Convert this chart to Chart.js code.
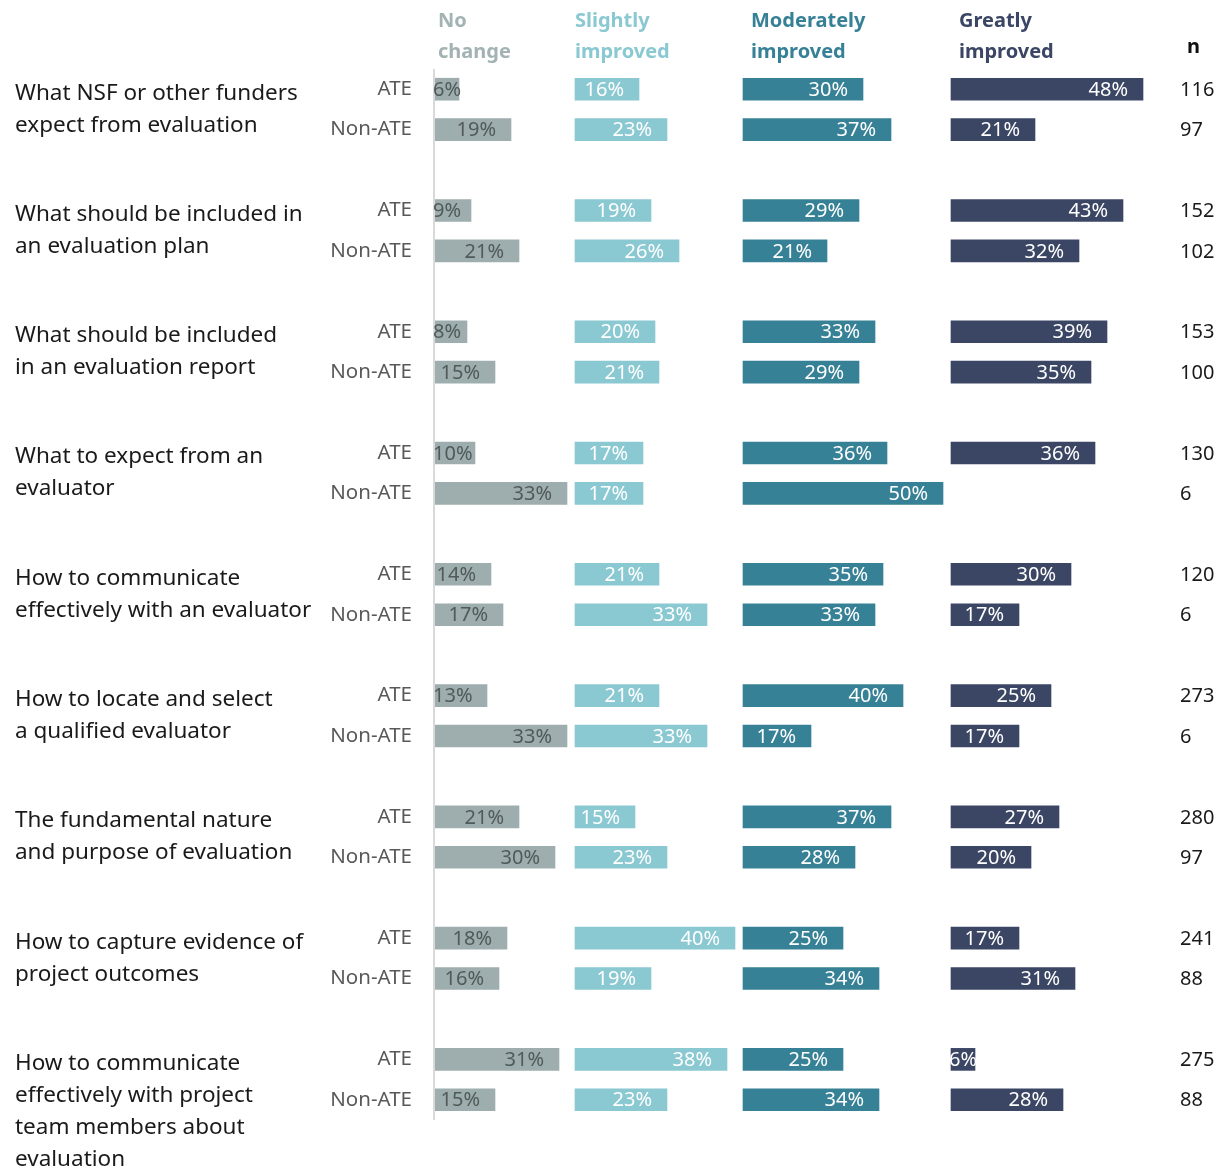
<!DOCTYPE html>
<html>
<head>
<meta charset="utf-8">
<script src="https://cdn.jsdelivr.net/npm/chart.js@4"></script>
<style>
  body { margin: 0; background: #fff; }
  canvas { display: block; }
</style>
</head>
<body>
<canvas id="chart" width="1226" height="1171"></canvas>
<script>
    const categories = [
      ['What NSF or other funders', 'expect from evaluation'],
      ['What should be included in', 'an evaluation plan'],
      ['What should be included', 'in an evaluation report'],
      ['What to expect from an', 'evaluator'],
      ['How to communicate', 'effectively with an evaluator'],
      ['How to locate and select', 'a qualified evaluator'],
      ['The fundamental nature', 'and purpose of evaluation'],
      ['How to capture evidence of', 'project outcomes'],
      ['How to communicate', 'effectively with project', 'team members about', 'evaluation']
    ];
    const groups = ['ATE', 'Non-ATE'];
    const seriesNames = [['No', 'change'], ['Slightly', 'improved'], ['Moderately', 'improved'], ['Greatly', 'improved']];

    // percentages per category, ATE rows
    const noChangeATE   = [6, 9, 8, 10, 14, 13, 21, 18, 31];
    const slightlyATE   = [16, 19, 20, 17, 21, 21, 15, 40, 38];
    const moderatelyATE = [30, 29, 33, 36, 35, 40, 37, 25, 25];
    const greatlyATE    = [48, 43, 39, 36, 30, 25, 27, 17, 6];
    const nATE          = [116, 152, 153, 130, 120, 273, 280, 241, 275];

    // Non-ATE rows
    const noChangeNon   = [19, 21, 15, 33, 17, 33, 30, 16, 15];
    const slightlyNon   = [23, 26, 21, 17, 33, 33, 23, 19, 23];
    const moderatelyNon = [37, 21, 29, 50, 33, 17, 28, 34, 34];
    const greatlyNon    = [21, 32, 35, 0, 17, 17, 20, 31, 28];
    const nNon          = [97, 102, 100, 6, 6, 6, 97, 88, 88];

    const barColors   = ['#9eaeae', '#8ac8d2', '#368196', '#3b4665'];
    const headColors  = ['#a3b2b2', '#8ac8d2', '#368196', '#3b4665'];
    const labelColors = ['#505a5a', '#ffffff', '#ffffff', '#ffffff'];
    const panelStart  = [0, 35, 77, 129]; // each column panel sits at its own offset on the x scale

    const ateSeries = [noChangeATE, slightlyATE, moderatelyATE, greatlyATE];
    const nonSeries = [noChangeNon, slightlyNon, moderatelyNon, greatlyNon];

    // rows: ATE, Non-ATE, spacer ... (no spacer after the last group)
    const rowLabels = [];
    const rowN = [];
    categories.forEach((c, i) => {
      rowLabels.push(groups[0], groups[1]);
      rowN.push(nATE[i], nNon[i]);
      if (i < categories.length - 1) { rowLabels.push(''); rowN.push(null); }
    });

    const datasets = seriesNames.map((name, s) => {
      const data = [];
      categories.forEach((c, i) => {
        const a = ateSeries[s][i], b = nonSeries[s][i];
        data.push(a ? [panelStart[s], panelStart[s] + a] : null);
        data.push(b ? [panelStart[s], panelStart[s] + b] : null);
        if (i < categories.length - 1) data.push(null);
      });
      return {
        label: name.join(' '),
        data,
        backgroundColor: barColors[s],
        grouped: false,
        barThickness: 22
      };
    });

    const FONT = '"Noto Sans", "Open Sans", sans-serif';

    const decorations = {
      id: 'decorations',
      beforeDatasetsDraw(chart) {
        const { ctx, chartArea } = chart;
        ctx.save();
        ctx.strokeStyle = '#d9d9d9';
        ctx.lineWidth = 2;
        ctx.beginPath();
        ctx.moveTo(chartArea.left - 1, chartArea.top);
        ctx.lineTo(chartArea.left - 1, chartArea.bottom);
        ctx.stroke();
        ctx.restore();
      },
      afterDatasetsDraw(chart) {
        const { ctx } = chart;
        const x = chart.scales.x, y = chart.scales.y;
        ctx.save();
        ctx.textBaseline = 'middle';

        // column headers
        ctx.font = 'bold 20px ' + FONT;
        ctx.textAlign = 'left';
        seriesNames.forEach((name, s) => {
          ctx.fillStyle = headColors[s];
          const hx = x.getPixelForValue(panelStart[s]) + (s === 0 ? 3 : s === 1 ? 0 : 8);
          ctx.fillText(name[0], hx, 21);
          ctx.fillText(name[1], hx, 52);
        });
        ctx.fillStyle = '#111';
        ctx.fillText('n', 1187, 47);

        // row labels and n
        rowLabels.forEach((lab, r) => {
          if (!lab) return;
          const py = y.getPixelForValue(r);
          ctx.font = '20.5px ' + FONT;
          ctx.fillStyle = '#595959';
          ctx.textAlign = 'right';
          ctx.fillText(lab, 412, py);
          ctx.font = '20px ' + FONT;
          ctx.fillStyle = '#1a1a1a';
          ctx.textAlign = 'left';
          ctx.fillText(String(rowN[r]), 1180, py + 1);
        });

        // category names
        ctx.font = '22.5px ' + FONT;
        ctx.fillStyle = '#1a1a1a';
        ctx.textAlign = 'left';
        categories.forEach((lines, i) => {
          const py = y.getPixelForValue(i * 3) + 4;
          lines.forEach((t, k) => ctx.fillText(t, 15, py + k * 32));
        });

        // value labels, inside end of each bar
        ctx.font = '20px ' + FONT;
        ctx.textAlign = 'right';
        chart.data.datasets.forEach((ds, s) => {
          chart.getDatasetMeta(s).data.forEach((bar, r) => {
            const v = ds.data[r];
            if (!v) return;
            const txt = (v[1] - v[0]) + '%';
            const w = ctx.measureText(txt).width;
            const start = Math.min(bar.base, bar.x), end = Math.max(bar.base, bar.x);
            const tx = Math.max(end - 15, start + w - 2);
            ctx.fillStyle = labelColors[s];
            ctx.fillText(txt, tx, bar.y + 1);
          });
        });
        ctx.restore();
      }
    };

    new Chart(document.getElementById('chart'), {
      type: 'bar',
      data: { labels: rowLabels, datasets },
      options: {
        indexAxis: 'y',
        responsive: false,
        animation: false,
        layout: { padding: { left: 435, right: 71, top: 69, bottom: 51 } },
        scales: {
          x: { type: 'linear', min: 0, max: 180, display: false },
          y: { type: 'category', display: false }
        },
        plugins: { legend: { display: false }, tooltip: { enabled: false } }
      },
      plugins: [decorations]
    });
</script>
</body>
</html>
